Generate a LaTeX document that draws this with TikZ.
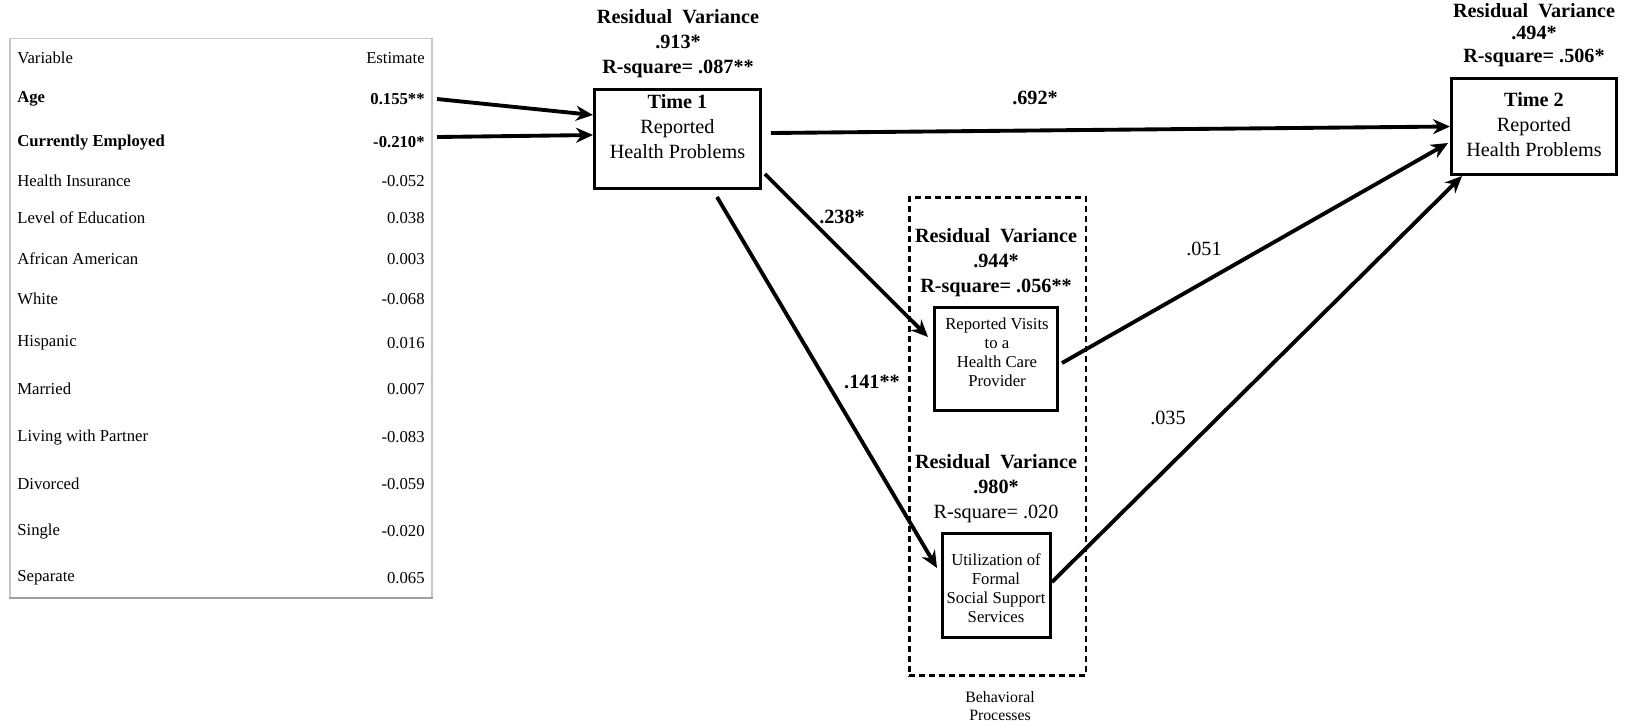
\documentclass[tikz,border=0pt]{standalone}
\usepackage{fontspec}
\setmainfont{Liberation Serif}
\usetikzlibrary{arrows.meta}

\begin{document}
\begin{tikzpicture}[
    x=0.02cm, y=-0.02cm,
    varbox/.style={draw,line width=1.7pt,inner sep=0pt},
    groupbox/.style={draw,line width=1.4pt,dash pattern=on 0.12cm off 0.08cm,inner sep=0pt},
    boxtext/.style={align=center,inner sep=0pt,font=\fontsize{11.5}{14.2}\selectfont},
    smalltext/.style={align=center,inner sep=0pt,font=\fontsize{9.5}{10.8}\selectfont},
    resid/.style={align=center,inner sep=0pt,font=\fontsize{11.5}{14.2}\selectfont\bfseries},
    coef/.style={inner sep=0pt,font=\fontsize{11.5}{14}\selectfont\bfseries},
    coefns/.style={inner sep=0pt,font=\fontsize{11.5}{14}\selectfont},
    rowname/.style={anchor=west,inner sep=0pt,font=\fontsize{9.5}{11}\selectfont},
    rowval/.style={anchor=east,inner sep=0pt,font=\fontsize{9.5}{11}\selectfont},
    link/.style={-{Stealth[length=0.34cm,width=0.3cm]},line width=2.2pt}
]
\useasboundingbox (0,0) rectangle (1625,725);

% Tabela zmiennych (lewo)
\node[draw=gray!45,line width=1pt,minimum width=8.44cm,minimum height=11.18cm,inner sep=0pt] (tbl) at (221,318) {};
\draw[gray!75,line width=1.3pt] (tbl.south west) -- (tbl.south east);

\node[rowname] (var0) at (17,58) {Variable};
\node[rowval] (est0) at (425,58) {Estimate};
\node[rowname,font=\fontsize{9.5}{11}\selectfont\bfseries] (var1) at (17,99) {Age};
\node[rowval,font=\fontsize{9.5}{11}\selectfont\bfseries] (est1) at (425,99) {0.155**};
\node[rowname,font=\fontsize{9.5}{11}\selectfont\bfseries] (var2) at (17,142) {Currently Employed};
\node[rowval,font=\fontsize{9.5}{11}\selectfont\bfseries] (est2) at (425,142) {-0.210*};
\foreach \i/\txt/\val/\ypos in {3/Health Insurance/-0.052/181, 4/Level of Education/0.038/218,
    5/African American/0.003/259, 6/White/-0.068/299, 7/Hispanic/0.016/343, 8/Married/0.007/389,
    9/Living with Partner/-0.083/437, 10/Divorced/-0.059/484, 11/Single/-0.020/531, 12/Separate/0.065/578} {
  \node[rowname] (var\i) at (17,\ypos) {\txt};
  \node[rowval] (est\i) at (425,\ypos) {\val};
}

% Time 1
\node[varbox,minimum width=3.32cm,minimum height=1.98cm] (t1) at (677.5,139) {};
\node[boxtext] (t1txt) at (677.5,127) {\textbf{Time 1}\\Reported\\Health Problems};
\node[resid] (t1res) at (678,44) {Residual\hspace{0.5em}Variance\\.913*\\R-square= .087**};

% Time 2
\node[varbox,minimum width=3.30cm,minimum height=1.92cm] (t2) at (1534,126.5) {};
\node[boxtext] (t2txt) at (1534,125) {\textbf{Time 2}\\Reported\\Health Problems};
\node[resid,font=\fontsize{11.5}{13}\selectfont\bfseries] (t2res) at (1534,35) {Residual\hspace{0.5em}Variance\\.494*\\R-square= .506*};

% Procesy behawioralne
\node[groupbox,minimum width=3.53cm,minimum height=9.57cm] (grp) at (997.5,436.5) {};
\node[smalltext,font=\fontsize{9}{10.2}\selectfont] (grplbl) at (1000,706) {Behavioral\\Processes};

\node[varbox,minimum width=2.46cm,minimum height=2.06cm] (visits) at (996,359) {};
\node[smalltext] (visitstxt) at (997,352) {Reported Visits\\to a\\Health Care\\Provider};
\node[resid] (visitsres) at (996,263) {Residual\hspace{0.5em}Variance\\.944*\\R-square= .056**};

\node[varbox,minimum width=2.16cm,minimum height=2.08cm] (serv) at (996.5,585.5) {};
\node[smalltext] (servtxt) at (996,588) {Utilization of\\Formal\\Social Support\\Services};
\node[resid] (servres) at (996,489) {Residual\hspace{0.5em}Variance\\.980*\\\mdseries R-square= .020};

% Krawedzie
\draw[link] ([shift={(12,0)}]est1.east) -- ([shift={(0,-24)}]t1.west);
\draw[link] ([shift={(12,-5)}]est2.east) -- ([shift={(0,-4)}]t1.west);

\draw[link] ([shift={(9,-6)}]t1.east) -- (t2.west);
\draw[link] ([shift={(3,-16)}]t1.south east) -- ([shift={(-5,-22)}]visits.west);
\draw[link] ([shift={(39.5,7)}]t1.south) -- ([shift={(-4,-17.5)}]serv.west);
\draw[link] ([shift={(3,4)}]visits.east) -- ([shift={(-2,16.5)}]t2.west);
\draw[link] ([shift={(0,-3.5)}]serv.east) -- ([shift={(12,0)}]t2.south west);

% Wspolczynniki
\node[coef] (c692) at (1035,98) {.692*};
\node[coef] (c238) at (842,217) {.238*};
\node[coef] (c141) at (872,382) {.141**};
\node[coefns] (c051) at (1204,249) {.051};
\node[coefns] (c035) at (1168,418) {.035};

\end{tikzpicture}
\end{document}
